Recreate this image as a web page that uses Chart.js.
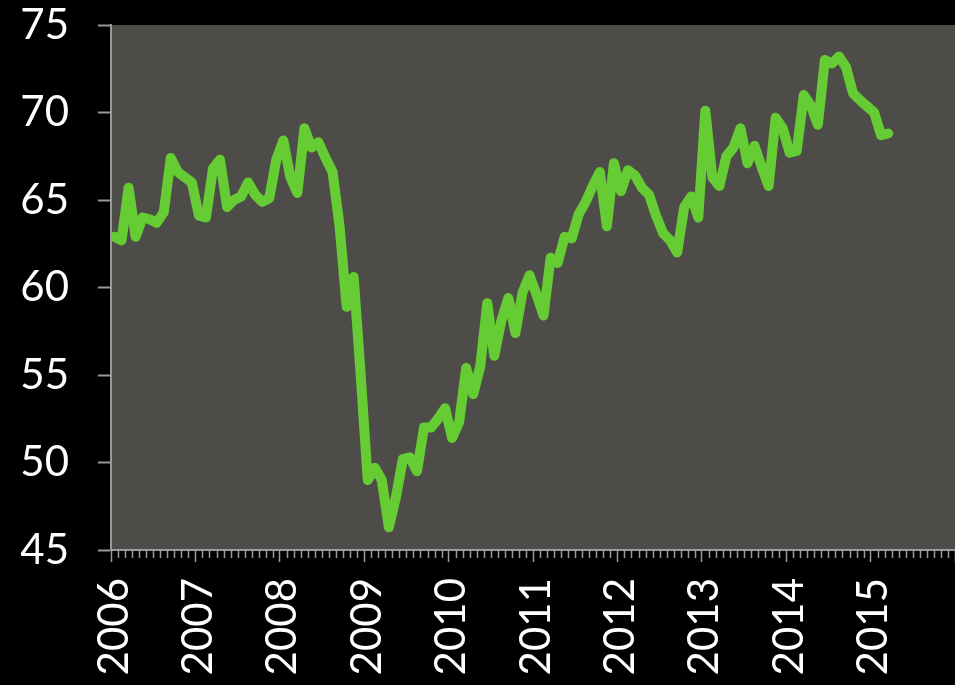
<!DOCTYPE html>
<html>
<head>
<meta charset="utf-8">
<script src="https://cdn.jsdelivr.net/npm/chart.js@4/dist/chart.umd.min.js"></script>
<style>
  html, body { margin: 0; padding: 0; background: #000; }
  #wrap { width: 955px; height: 685px; }
</style>
</head>
<body>
<div id="wrap"><canvas id="pmiChart"></canvas></div>
<script>
// --- DATA (monthly index, Jan 2006 - Mar 2015) ---
const startYear = 2006;
const endYear = 2016;
const yearLabels = ['2006', '2007', '2008', '2009', '2010', '2011', '2012', '2013', '2014', '2015'];
const yTicks = [45, 50, 55, 60, 65, 70, 75];

const values2006 = [62.9, 62.7, 65.7, 62.9, 64.0, 63.9, 63.7, 64.3, 67.4, 66.6, 66.3, 66.0];
const values2007 = [64.1, 64.0, 66.8, 67.3, 64.6, 65.0, 65.2, 66.0, 65.3, 64.9, 65.1, 67.3];
const values2008 = [68.4, 66.3, 65.4, 69.1, 68.0, 68.3, 67.4, 66.6, 63.5, 58.9, 60.6, 55.0];
const values2009 = [49.0, 49.7, 49.0, 46.3, 48.0, 50.2, 50.3, 49.5, 52.0, 52.0, 52.5, 53.1];
const values2010 = [51.4, 52.3, 55.4, 53.9, 55.5, 59.1, 56.1, 58.1, 59.4, 57.4, 59.7, 60.7];
const values2011 = [59.6, 58.4, 61.7, 61.4, 62.9, 62.8, 64.2, 64.9, 65.8, 66.6, 63.5, 67.1];
const values2012 = [65.5, 66.7, 66.4, 65.7, 65.3, 64.1, 63.1, 62.7, 62.0, 64.6, 65.2, 64.0];
const values2013 = [70.1, 66.3, 65.8, 67.5, 68.0, 69.1, 67.1, 68.1, 66.9, 65.8, 69.7, 69.1];
const values2014 = [67.7, 67.8, 71.0, 70.4, 69.3, 73.0, 72.8, 73.2, 72.6, 71.1, 70.7, 70.35];
const values2015 = [70.0, 68.7, 68.8];

const allValues = [].concat(values2006, values2007, values2008, values2009, values2010,
    values2011, values2012, values2013, values2014, values2015);

// each value sits in the middle of its month
const points = allValues.map((v, i) => ({ x: i + 0.5, y: v }));
const totalMonths = (endYear - startYear) * 12;

const axisGray = '#9a9a9a';
const labelFont = { family: 'Lato, "Open Sans", sans-serif', size: 42 };

// --- PLUGINS ---
const plotBackground = {
    id: 'plotBackground',
    beforeDraw(chart) {
        const a = chart.chartArea;
        const ctx = chart.ctx;
        ctx.save();
        ctx.fillStyle = '#4d4c48';
        ctx.fillRect(a.left, a.top, a.right - a.left, a.bottom - a.top);
        ctx.restore();
    }
};

// short month ticks under the x axis
const minorTicks = {
    id: 'minorTicks',
    afterDraw(chart) {
        const sx = chart.scales.x;
        const ctx = chart.ctx;
        ctx.save();
        ctx.strokeStyle = axisGray;
        ctx.lineWidth = 1.5;
        ctx.beginPath();
        for (let m = 0; m <= totalMonths; m++) {
            if (m % 12 === 0) continue;
            const px = Math.round(sx.getPixelForValue(m)) + 0.5;
            ctx.moveTo(px, sx.top);
            ctx.lineTo(px, sx.top + 8);
        }
        ctx.stroke();
        ctx.restore();
    }
};

new Chart(document.getElementById('pmiChart'), {
    type: 'line',
    data: {
        datasets: [{
            data: points,
            borderColor: '#66cc33',
            borderWidth: 10,
            borderJoinStyle: 'round',
            borderCapStyle: 'round',
            pointRadius: 0,
            tension: 0,
            fill: false
        }]
    },
    options: {
        responsive: true,
        maintainAspectRatio: false,
        animation: false,
        layout: { padding: { top: 25, right: 0, bottom: 0, left: 0 } },
        plugins: { legend: { display: false }, tooltip: { enabled: false } },
        scales: {
            x: {
                type: 'linear',
                min: 0,
                max: totalMonths,
                grid: {
                    drawOnChartArea: false,
                    tickLength: 12,
                    tickWidth: 1.5,
                    tickColor: ctx => (ctx.tick && ctx.tick.value % 12 === 0) ? axisGray : 'rgba(0,0,0,0)'
                },
                border: { color: axisGray, width: 2 },
                ticks: {
                    stepSize: 1,
                    autoSkip: false,
                    minRotation: 90,
                    maxRotation: 90,
                    padding: 16,
                    labelOffset: 3,
                    color: '#ffffff',
                    font: labelFont,
                    callback: v => (v % 12 === 0 && yearLabels[v / 12]) ? yearLabels[v / 12] : ''
                },
                afterFit: s => { s.height = 135; s.paddingLeft = 0; s.paddingRight = 0; }
            },
            y: {
                min: yTicks[0],
                max: yTicks[yTicks.length - 1],
                grid: {
                    drawOnChartArea: false,
                    tickLength: 13,
                    tickWidth: 2,
                    tickColor: axisGray
                },
                border: { color: axisGray, width: 2 },
                ticks: {
                    stepSize: 5,
                    padding: 29,
                    color: '#ffffff',
                    font: labelFont
                },
                afterFit: s => { s.width = 111; s.paddingTop = 0; s.paddingBottom = 0; }
            }
        }
    },
    plugins: [plotBackground, minorTicks]
});
</script>
</body>
</html>
